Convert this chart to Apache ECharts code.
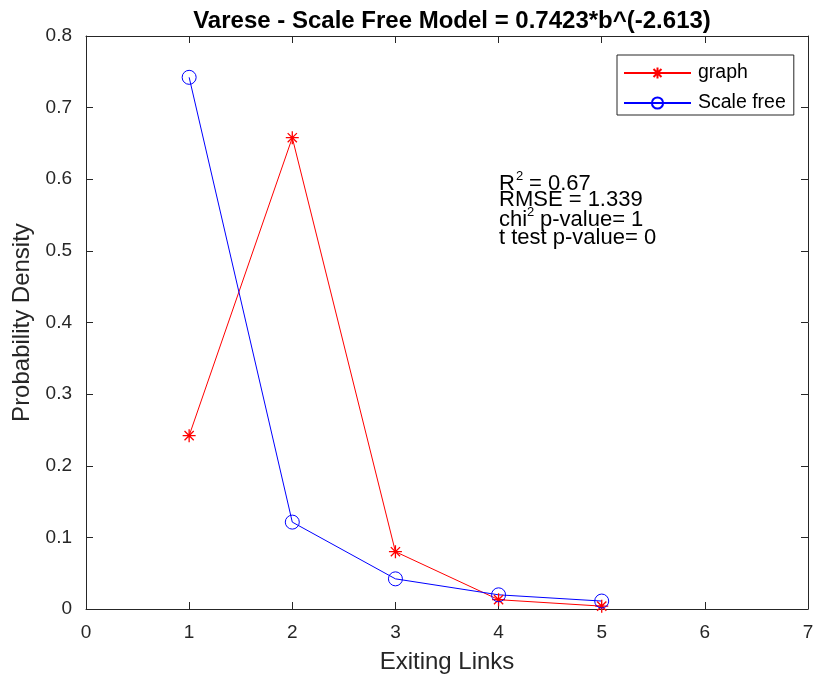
<!DOCTYPE html>
<html>
<head>
<meta charset="utf-8">
<script src="https://cdn.jsdelivr.net/npm/echarts@6/dist/echarts.min.js"></script>
<style>
  html, body { margin: 0; padding: 0; background: #fff; }
  #chart { width: 819px; height: 684px; }
</style>
</head>
<body>
<div id="chart"></div>
<script>
// Degree distribution: observed graph vs. fitted power law 0.7423*b^(-2.613)
var links = [1, 2, 3, 4, 5];
var graphDensity = [0.242, 0.658, 0.080, 0.013, 0.004];
var scaleFreeDensity = [0.7423, 0.1213, 0.0421, 0.0198, 0.0111];
var xTicks = [0, 1, 2, 3, 4, 5, 6, 7];
var yTicks = [0, 0.1, 0.2, 0.3, 0.4, 0.5, 0.6, 0.7, 0.8];

var FONT = 'Liberation Sans, Arial, Helvetica, sans-serif';
var INK = '#262626';
var ASTERISK = 'path://M0,10L20,10M10,0L10,20M2.9,2.9L17.1,17.1M17.1,2.9L2.9,17.1';

function pairs(xs, ys) {
  return xs.map(function (x, i) { return [x, ys[i]]; });
}

function axisBase(ticks, pos, showLabels, margin) {
  return {
    type: 'value',
    position: pos,
    min: ticks[0],
    max: ticks[ticks.length - 1],
    interval: ticks[1] - ticks[0],
    splitLine: { show: false },
    axisLine: { show: true, onZero: false, lineStyle: { color: INK, width: 1 } },
    axisTick: { show: true, inside: true, length: 7, lineStyle: { color: INK, width: 1 } },
    axisLabel: {
      show: showLabels, color: INK, fontFamily: FONT, fontSize: 19, margin: margin || 12,
      formatter: function (v) { return String(+v.toFixed(1)); }
    }
  };
}

var xMain = axisBase(xTicks, 'bottom', true, 14);
xMain.name = 'Exiting Links';
xMain.nameLocation = 'middle';
xMain.nameGap = 41;
xMain.nameTextStyle = { color: INK, fontFamily: FONT, fontSize: 24 };

var yMain = axisBase(yTicks, 'left', true, 14);
yMain.name = 'Probability Density';
yMain.nameLocation = 'middle';
yMain.nameGap = 49;
yMain.nameTextStyle = { color: INK, fontFamily: FONT, fontSize: 24 };

var chart = echarts.init(document.getElementById('chart'), null, { renderer: 'canvas' });

// Goodness-of-fit annotation, one text piece per run (superscripts drawn smaller and raised)
function label(x, y, text, size) {
  return {
    type: 'text', x: x, y: y, silent: true,
    style: { text: text, fill: '#000', fontFamily: FONT, fontSize: size || 22, verticalAlign: 'middle' }
  };
}

chart.setOption({
  animation: false,
  backgroundColor: '#fff',
  title: {
    text: 'Varese - Scale Free Model = 0.7423*b^(-2.613)',
    left: 447, top: 4, textAlign: 'center',
    textStyle: { color: '#000', fontFamily: FONT, fontSize: 24, fontWeight: 'bold' }
  },
  grid: { left: 86, right: 11, top: 36, bottom: 75, containLabel: false },
  xAxis: [xMain, axisBase(xTicks, 'top', false)],
  yAxis: [yMain, axisBase(yTicks, 'right', false)],
  legend: {
    orient: 'vertical',
    left: 617, top: 55,
    padding: [8, 8, 2, 6],
    itemWidth: 67, itemHeight: 14, itemGap: 10,
    backgroundColor: '#fff',
    borderColor: INK, borderWidth: 1, borderRadius: 0,
    textStyle: { color: '#000', fontFamily: FONT, fontSize: 19.5, padding: [0, 0, 0, 2] },
    data: ['graph', 'Scale free']
  },
  series: [
    {
      name: 'graph', type: 'line',
      data: pairs(links, graphDensity),
      symbol: ASTERISK, symbolSize: 13,
      lineStyle: { color: '#ff0000', width: 1 },
      itemStyle: { color: 'rgba(0,0,0,0)', borderColor: '#ff0000', borderWidth: 1.3 },
      emphasis: { disabled: true }
    },
    {
      name: 'Scale free', type: 'line',
      data: pairs(links, scaleFreeDensity),
      symbol: 'circle', symbolSize: 14,
      lineStyle: { color: '#0000ff', width: 1 },
      itemStyle: { color: 'rgba(0,0,0,0)', borderColor: '#0000ff', borderWidth: 1 },
      emphasis: { disabled: true }
    }
  ],
  graphic: [
    label(499, 184, 'R'),
    label(516, 176, '2', 13),
    label(529, 184, '= 0.67'),
    label(499, 200, 'RMSE = 1.339'),
    label(499, 220, 'chi'),
    label(527, 212, '2', 13),
    label(540, 220, 'p-value= 1'),
    label(499, 238, 't test p-value= 0')
  ]
});
</script>
</body>
</html>
